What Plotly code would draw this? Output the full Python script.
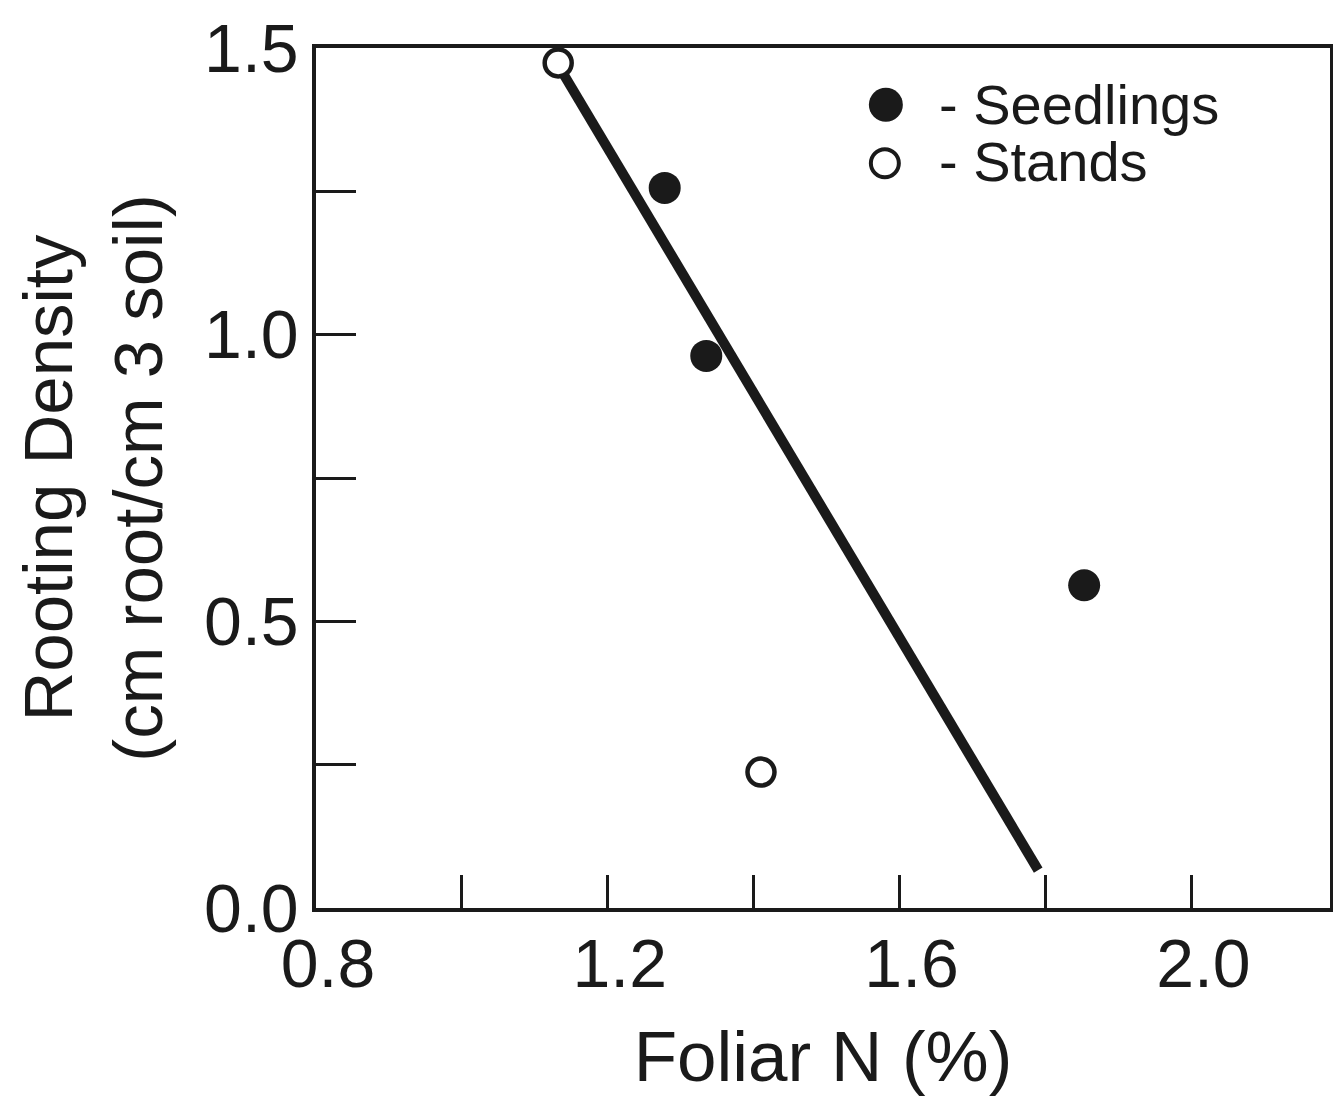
import plotly.graph_objects as go

# Data
seedling_n = [1.278, 1.335, 1.853]
seedling_rd = [1.256, 0.963, 0.563]
stand_n = [1.132, 1.410]
stand_rd = [1.474, 0.237]
fit_n = [1.140, 1.790]
fit_rd = [1.453, 0.066]

x_tickvals = [0.8, 1.0, 1.2, 1.4, 1.6, 1.8, 2.0]
x_ticktext = ["0.8", "", "1.2", "", "1.6", "", "2.0"]
y_tickvals = [0.0, 0.25, 0.5, 0.75, 1.0, 1.25, 1.5]
y_ticktext = ["0.0", "", "0.5", "", "1.0", "", "1.5"]

FONT = "Liberation Sans, Arial, sans-serif"
INK = "#1a1a1a"

fig = go.Figure()
fig.add_trace(go.Scatter(x=fit_n, y=fit_rd, mode="lines",
                         line=dict(color=INK, width=10), showlegend=False,
                         hoverinfo="skip"))
fig.add_trace(go.Scatter(x=seedling_n, y=seedling_rd, mode="markers",
                         name="- Seedlings", showlegend=False,
                         marker=dict(color=INK, size=32, line=dict(width=0))))
fig.add_trace(go.Scatter(x=stand_n, y=stand_rd, mode="markers",
                         name="- Stands", showlegend=False,
                         marker=dict(color="white", size=27,
                                     line=dict(color=INK, width=4.5))))

# legend (drawn as key symbols + labels)
fig.add_shape(type="circle", xref="paper", yref="paper", xsizemode="pixel",
              ysizemode="pixel", xanchor=0.562, yanchor=0.934,
              x0=-17, x1=17, y0=-17, y1=17, fillcolor=INK, line=dict(width=0))
fig.add_shape(type="circle", xref="paper", yref="paper", xsizemode="pixel",
              ysizemode="pixel", xanchor=0.561, yanchor=0.866,
              x0=-14, x1=14, y0=-14, y1=14, fillcolor="white",
              line=dict(color=INK, width=4))
fig.add_annotation(text="- Seedlings", xref="paper", yref="paper",
                   x=0.612, y=0.934, xanchor="left", yanchor="middle",
                   showarrow=False, font=dict(family=FONT, size=56, color=INK))
fig.add_annotation(text="- Stands", xref="paper", yref="paper",
                   x=0.612, y=0.868, xanchor="left", yanchor="middle",
                   showarrow=False, font=dict(family=FONT, size=56, color=INK))

fig.update_xaxes(range=[0.8, 2.19], tickvals=x_tickvals, ticktext=x_ticktext,
                 ticks="inside", ticklen=33, tickwidth=3, tickcolor=INK,
                 showline=True, linewidth=3.5, linecolor=INK, mirror=True,
                 showgrid=False, zeroline=False,
                 tickfont=dict(family=FONT, size=68, color=INK),
                 ticklabelstandoff=-6, ticklabelshift=12,
                 title=dict(text="Foliar N (%)", standoff=51,
                            font=dict(family=FONT, size=71, color=INK)))
fig.update_yaxes(range=[0, 1.5], tickvals=y_tickvals, ticktext=y_ticktext,
                 ticks="inside", ticklen=40, tickwidth=3, tickcolor=INK,
                 showline=True, linewidth=3.5, linecolor=INK, mirror=True,
                 showgrid=False, zeroline=False,
                 tickfont=dict(family=FONT, size=68, color=INK),
                 ticklabelstandoff=0,
                 title=dict(text="Rooting Density<br>(cm root/cm 3 soil)",
                            standoff=20,
                            font=dict(family=FONT, size=69, color=INK)))

fig.update_layout(width=1333, height=1096,
                  margin=dict(l=316, r=3, t=48, b=188, autoexpand=False),
                  plot_bgcolor="white", paper_bgcolor="white",
                  showlegend=False)

fig.write_html("out.html", config={"displayModeBar": False},
               post_script="document.body.style.margin='0px';document.body.style.overflow='hidden';")
